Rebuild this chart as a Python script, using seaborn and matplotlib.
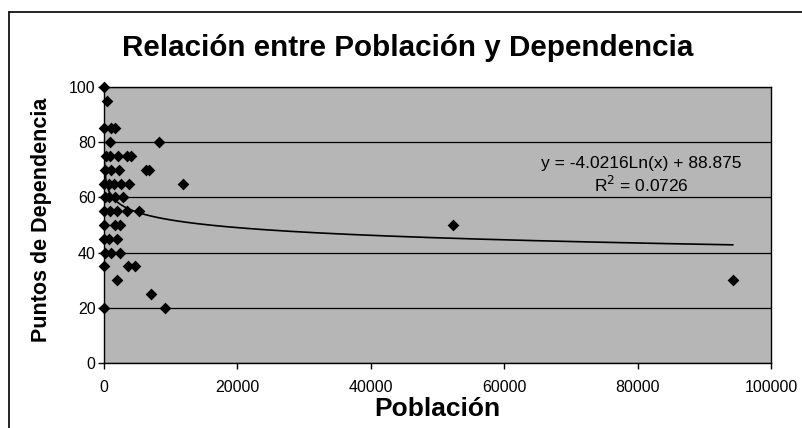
import numpy as np
import pandas as pd
import matplotlib
matplotlib.use("Agg")
import matplotlib.pyplot as plt
import seaborn as sns
from matplotlib.lines import Line2D

# ---- data ----
poblacion = [0, 500, 0, 1000, 1600, 900, 8200,
             300, 900, 2100, 3400, 4000,
             200, 1100, 2300, 6300, 6700,
             0, 700, 1500, 2600, 3700, 11900,
             100, 800, 1700, 2900,
             0, 900, 1900, 3500, 5300,
             0, 1600, 2400,
             0, 800, 2000,
             200, 1100, 2400,
             0, 3600, 4700,
             2000, 7000, 0, 9100,
             52300, 94300]
dependencia = [100, 95, 85, 85, 85, 80, 80,
               75, 75, 75, 75, 75,
               70, 70, 70, 70, 70,
               65, 65, 65, 65, 65, 65,
               60, 60, 60, 60,
               55, 55, 55, 55, 55,
               50, 50, 50,
               45, 45, 45,
               40, 40, 40,
               35, 35, 35,
               30, 25, 20, 20,
               50, 30]
trend_a = -4.0216
trend_b = 88.875
r2 = 0.0726
xticks = [0, 20000, 40000, 60000, 80000, 100000]
yticks = [0, 20, 40, 60, 80, 100]

df = pd.DataFrame({"Población": poblacion, "Dependencia": dependencia})

sns.set_theme(style="white")
plt.rcParams['font.family'] = ['Liberation Sans', 'DejaVu Sans']
plt.rcParams['text.color'] = 'black'

fig = plt.figure(figsize=(8.02, 4.28), dpi=100)
ax = fig.add_axes([104/802, 1-363/428, (771-104)/802, (363-87)/428])
ax.set_facecolor("#b6b6b6")

sns.scatterplot(data=df, x="Población", y="Dependencia", marker="D",
                s=36, color="black", edgecolor="black", linewidth=0, ax=ax, zorder=4)
for coll in ax.collections:
    coll.set_clip_on(False)

xs = np.linspace(max(min(poblacion), 50), max(poblacion), 400)
ax.plot(xs, trend_a*np.log(xs) + trend_b, color="black", lw=1.2, zorder=3)

ax.set_xlim(0, 100000)
ax.set_ylim(0, 100)
ax.set_xticks(xticks)
ax.set_yticks(yticks)
ax.set_xticklabels([str(t) for t in xticks])
ax.set_yticklabels([str(t) for t in yticks])
ax.yaxis.grid(True, color="black", lw=0.9)
ax.set_axisbelow(True)
for sp in ax.spines.values():
    sp.set_color("black")
    sp.set_linewidth(1.0)
ax.tick_params(axis="both", direction="out", length=4, width=1, color="black",
               labelsize=11.5, labelcolor="black", pad=2,
               bottom=True, left=True)
ax.tick_params(axis="x", pad=8)

ax.set_xlabel("Población", fontsize=19, fontweight="bold", color="black")
ax.xaxis.set_label_coords(0.5, -0.122)
ax.set_ylabel("Puntos de Dependencia", fontsize=15.5, fontweight="bold", color="black")
ax.yaxis.set_label_coords(-0.078, 0.52)

ax.text(0.805, 0.68, "y = -4.0216Ln(x) + 88.875\nR$^2$ = 0.0726",
        transform=ax.transAxes, ha="center", va="center", fontsize=12.5,
        linespacing=1.2, color="black")

fig.text(0.508, 1-48/428, "Relación entre Población y Dependencia",
         ha="center", va="center", fontsize=21.3, fontweight="bold", color="black")

# figure frame (left and top visible)
fig.add_artist(Line2D([9/802, 9/802], [0, 1-12/428], color="black", lw=1.2, transform=fig.transFigure))
fig.add_artist(Line2D([9/802, 1], [1-12/428, 1-12/428], color="black", lw=1.2, transform=fig.transFigure))

fig.savefig("out.png", dpi=100, facecolor="white")
